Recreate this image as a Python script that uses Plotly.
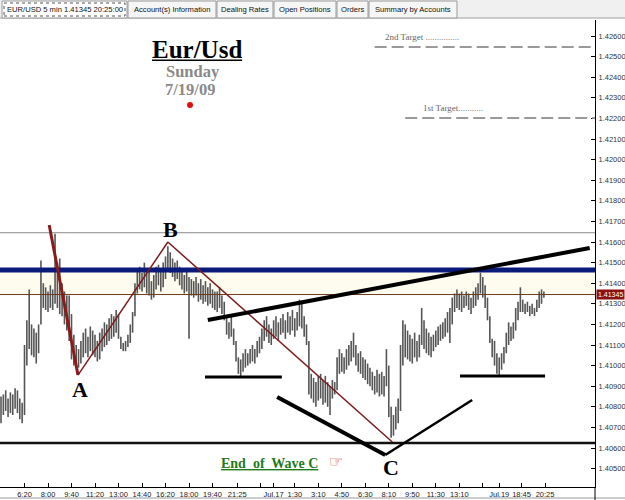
import plotly.graph_objects as go

# ---------------- data (prices stored as pips above 1.4000) ----------------
BASE = 1.4
BAR_STEP = 2  # each stored bar = two 5-minute slots on the index axis

highs = [85, 86, 88, 84, 87, 86, 89, 88, 84, 82,
         110, 122, 137, 120, 118, 116, 120, 151, 140, 138,
         136, 139, 137, 164, 150, 152, 140, 136, 134, 134,
         125, 115, 110, 108, 112, 116, 118, 114, 119, 117,
         115, 112, 116, 118, 121, 120, 123, 125, 124, 127,
         125, 114, 111, 112, 115, 120, 126, 140, 147, 148,
         145, 150, 147, 146, 141, 144, 148, 149, 146, 150,
         153, 158, 155, 152, 150, 151, 148, 146, 144, 146,
         143, 142, 141, 143, 140, 142, 139, 141, 138, 140,
         137, 136, 136, 138, 134, 131, 123, 121, 124, 118,
         112, 104, 103, 106, 108, 106, 108, 110, 108, 112,
         114, 118, 122, 124, 120, 118, 122, 124, 121, 123,
         125, 122, 126, 124, 127, 123, 126, 132, 131, 124,
         120, 112, 96, 94, 92, 95, 96, 93, 95, 92,
         90, 93, 92, 104, 108, 106, 104, 108, 110, 112,
         116, 110, 106, 107, 104, 103, 101, 99, 97, 95,
         98, 96, 97, 95, 108, 100, 80, 76, 80, 84,
         110, 122, 120, 117, 115, 113, 116, 112, 115, 128,
         122, 118, 116, 114, 115, 117, 119, 120, 121, 123,
         126, 128, 133, 135, 137, 135, 136, 134, 136, 135,
         133, 136, 138, 140, 145, 143, 139, 133, 124, 113,
         112, 106, 104, 106, 109, 116, 121, 119, 121, 128,
         131, 138, 132, 130, 131, 129, 130, 128, 132, 136,
         137, 136]
lows = [72, 76, 78, 75, 77, 76, 79, 77, 74, 72,
        76, 100, 108, 105, 104, 101, 106, 120, 128, 127,
        126, 128, 127, 130, 128, 125, 124, 120, 117, 112,
        103, 100, 100, 99, 101, 104, 106, 104, 107, 105,
        104, 102, 103, 107, 109, 110, 112, 113, 114, 116,
        113, 108, 107, 107, 109, 111, 116, 124, 135, 137,
        136, 138, 135, 134, 132, 133, 137, 139, 136, 138,
        142, 146, 145, 143, 141, 142, 139, 137, 135, 136,
        113, 134, 133, 134, 131, 132, 130, 131, 129, 130,
        128, 127, 126, 128, 125, 122, 115, 113, 114, 110,
        102, 96, 94, 97, 99, 100, 101, 102, 101, 104,
        106, 108, 112, 114, 111, 110, 113, 114, 112, 115,
        116, 113, 116, 115, 117, 114, 117, 119, 118, 114,
        110, 86, 84, 82, 80, 83, 84, 81, 82, 80,
        76, 84, 86, 88, 96, 97, 96, 98, 100, 102,
        104, 100, 97, 96, 94, 93, 91, 90, 88, 86,
        87, 85, 86, 85, 90, 75, 65, 66, 69, 72,
        78, 100, 104, 103, 102, 101, 104, 102, 104, 110,
        108, 106, 105, 104, 107, 109, 110, 112, 113, 114,
        116, 111, 120, 126, 128, 127, 126, 128, 129, 127,
        125, 128, 129, 132, 135, 133, 128, 122, 111, 104,
        100, 96, 95, 98, 101, 106, 110, 112, 113, 117,
        122, 126, 126, 125, 126, 124, 125, 124, 126, 128,
        130, 133]

tick_bars = [0, 20, 40, 60, 80, 100, 120, 140, 160, 180, 201, 221, 232,
             250, 270, 290, 310, 330, 350, 370, 390, 410, 424, 443, 463]
tick_labels = ["4:40", "6:20", "8:00", "9:40", "11:20", "13:00", "14:40",
               "16:20", "18:00", "19:40", "21:25", "", "Jul.17", "1:30",
               "3:10", "4:50", "6:30", "8:10", "9:50", "11:30", "13:10",
               "", "Jul.19", "18:45", "20:25"]

price_ticks = [1.405, 1.406, 1.407, 1.408, 1.409, 1.410, 1.411, 1.412,
               1.413, 1.414, 1.415, 1.416, 1.417, 1.418, 1.419, 1.420,
               1.421, 1.422, 1.423, 1.424, 1.425, 1.426]

# key levels / analyst drawings (bar index, price)
last_price = 1.41345
level_gray = 1.41645
level_blue = 1.41464
level_support = 1.40624
target_1 = 1.42202
target_2 = 1.42547
wave_start = (41, 1.41683)
wave_A = (65.5, 1.40954)
wave_B = (142, 1.41600)
wave_C = (333, 1.40629)
trend_up = [(176, 1.41221), (501, 1.41571)]
neck_1 = [(173.6, 1.40945), (239, 1.40945)]
neck_2 = [(390.6, 1.40950), (463, 1.40950)]
v_pts = [(235, 1.40848), (327, 1.40566), (401, 1.40833)]

# ---------------- figure ----------------
W, H = 625, 500
ML, MR, MT, MB = 0, 30, 20, 13
PW, PH = W - ML - MR, H - MT - MB


def X(px):
    return (px - ML) / PW


def Y(py):
    return (H - MB - py) / PH


fig = go.Figure()

xs, ys = [], []
for k, (h, l) in enumerate(zip(highs, lows)):
    xb = k * BAR_STEP
    xs += [xb, xb, None]
    ys += [BASE + l / 1e4, BASE + h / 1e4, None]
fig.add_trace(go.Scatter(x=xs, y=ys, mode="lines",
                         line=dict(color="#555555", width=1.6),
                         hoverinfo="skip", showlegend=False))

shapes = []
# cream band
shapes.append(dict(type="rect", xref="paper", yref="y", x0=0, x1=1,
                   y0=last_price, y1=level_blue, fillcolor="#fefcef",
                   line=dict(width=0), layer="below"))


def hline(y, color, width, x0=0, x1=1, dash="solid", xref="paper"):
    shapes.append(dict(type="line", xref=xref, yref="y", x0=x0, x1=x1,
                       y0=y, y1=y, line=dict(color=color, width=width, dash=dash)))


def seg(p, q, color, width):
    shapes.append(dict(type="line", xref="x", yref="y", x0=p[0], y0=p[1],
                       x1=q[0], y1=q[1], line=dict(color=color, width=width)))


hline(level_gray, "#8a8a8a", 1)
hline(last_price, "#6b3a1a", 1)
hline(level_blue, "#0a1a7a", 5)
hline(level_support, "#111111", 2.5)
hline(target_2, "#9a9a9a", 2, x0=318, x1=506, dash="12px,5px", xref="x")
hline(target_1, "#9a9a9a", 2, x0=344, x1=506, dash="12px,5px", xref="x")

seg(wave_start, wave_A, "#8b1a1a", 3)
seg(wave_A, wave_B, "#7a1c1c", 1.5)
seg(wave_B, wave_C, "#7a1c1c", 1.5)
seg(trend_up[0], trend_up[1], "#000000", 4)
seg(neck_1[0], neck_1[1], "#000000", 3)
seg(neck_2[0], neck_2[1], "#000000", 3)
seg(v_pts[0], v_pts[1], "#000000", 4)
seg(v_pts[1], v_pts[2], "#000000", 2.5)

# red dot
shapes.append(dict(type="circle", xref="paper", yref="paper",
                   x0=X(187), x1=X(193), y0=Y(108), y1=Y(102),
                   fillcolor="#e01010", line=dict(width=0)))

# tab strip
shapes.append(dict(type="rect", xref="paper", yref="paper", x0=X(0), x1=X(625),
                   y0=Y(18), y1=Y(0), fillcolor="#f0f0f0", line=dict(width=0)))
shapes.append(dict(type="line", xref="paper", yref="paper", x0=X(0), x1=X(625),
                   y0=Y(18), y1=Y(18), line=dict(color="#a0a0a0", width=1)))
tabs = [("EUR/USD 5 min 1.41345 20:25:00", 2, 127),
        ("Account(s) Information", 128, 216),
        ("Dealing Rates", 217, 273),
        ("Open Positions", 274, 336),
        ("Orders", 337, 368),
        ("Summary by Accounts", 369, 457)]
annotations = []
for i, (lab, a, b) in enumerate(tabs):
    shapes.append(dict(type="rect", xref="paper", yref="paper", x0=X(a), x1=X(b),
                       y0=Y(18), y1=Y(1), fillcolor="#ffffff" if i == 0 else "#f6f6f6",
                       line=dict(color="#9a9a9a", width=1)))
    if i == 0:
        shapes.append(dict(type="rect", xref="paper", yref="paper", x0=X(a + 2), x1=X(b - 2),
                           y0=Y(16), y1=Y(3), line=dict(color="#555", width=1, dash="dot")))
    annotations.append(dict(xref="paper", yref="paper", x=X((a + b) / 2), y=Y(9.5),
                            text=lab, showarrow=False, xanchor="center", yanchor="middle",
                            font=dict(family="Liberation Sans", size=7.6, color="#111")))

# bottom border & axis extension
shapes.append(dict(type="line", xref="paper", yref="paper", x0=X(0), x1=X(625),
                   y0=Y(498), y1=Y(498), line=dict(color="#9a9a9a", width=1)))
shapes.append(dict(type="line", xref="paper", yref="paper", x0=X(595), x1=X(595),
                   y0=Y(500), y1=Y(487), line=dict(color="#000", width=1)))

serif = "Liberation Serif"


def txt(s, px, py, size, color="#000", xanchor="center", family=serif, h=None):
    a = dict(xref="paper", yref="paper", x=X(px), y=Y(py), text=s,
             showarrow=False, xanchor=xanchor, yanchor="middle",
             font=dict(family=family, size=size, color=color))
    if h is not None:
        a["height"] = h
    annotations.append(a)


txt("<b><u>Eur/Usd</u></b>", 197, 49, 25, h=24)
txt("<b>Sunday</b>", 193, 72, 16.5, "#8a8a8a")
txt("<b>7/19/09</b>", 190, 89.5, 16.5, "#8a8a8a", h=13)
txt("<b>A</b>", 80, 389, 22)
txt("<b>B</b>", 170, 229, 22)
txt("<b>C</b>", 391, 467, 22)
txt("<b><u>End&nbsp; of&nbsp; Wave C</u></b>", 269, 463, 14, "#1e7a1e")
txt("☞", 336, 461, 16, "#e03030", family="DejaVu Sans")
txt("2nd Target ...............", 383, 37, 9, "#666", xanchor="left")
txt("1st Target...........", 421, 108, 9, "#666", xanchor="left")

# last price box
annotations.append(dict(xref="paper", yref="y", x=X(596), y=last_price,
                        text="1.41345", showarrow=False, xanchor="left", yanchor="middle",
                        bgcolor="#8b1010", borderpad=1,
                        font=dict(family="Liberation Sans", size=7, color="#ffffff")))

fig.update_layout(
    width=W, height=H, margin=dict(l=ML, r=MR, t=MT, b=MB),
    paper_bgcolor="white", plot_bgcolor="white",
    showlegend=False, shapes=shapes, annotations=annotations,
    xaxis=dict(range=[-0.85, 505.5], tickmode="array", tickvals=tick_bars,
               ticktext=tick_labels, ticks="inside", ticklen=4, tickcolor="#000",
               showgrid=False, zeroline=False, showline=True, linecolor="#000",
               linewidth=1, tickfont=dict(family="Liberation Sans", size=7.5, color="#222")),
    yaxis=dict(range=[1.404107, 1.426777], side="right", tickmode="array",
               tickvals=price_ticks, ticktext=["%.5f" % v for v in price_ticks],
               ticks="inside", ticklen=4, tickcolor="#000", showgrid=False,
               zeroline=False, showline=True, linecolor="#000", linewidth=1,
               ticklabelstandoff=1,
               tickfont=dict(family="Liberation Sans", size=7.5, color="#333")),
)

fig.write_html("out.html")
